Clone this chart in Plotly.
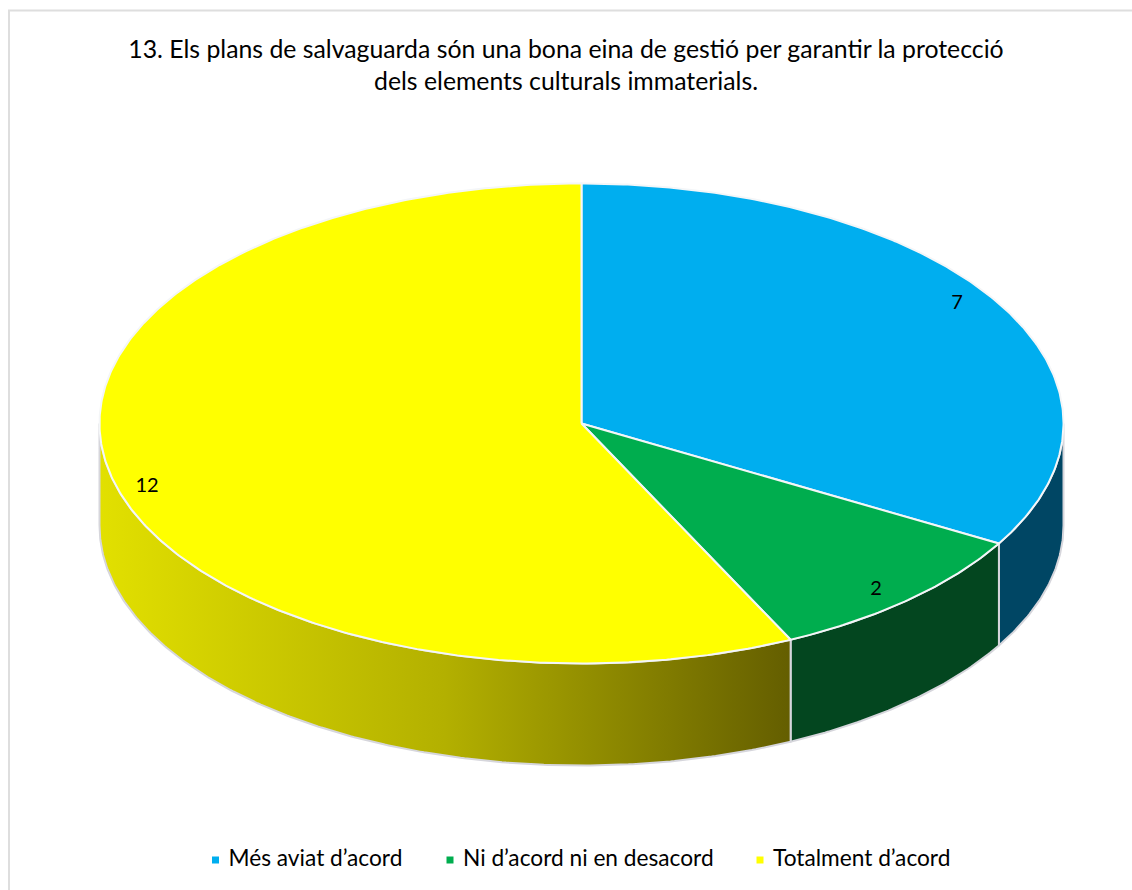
import numpy as np
import plotly.graph_objects as go

title = "13. Els plans de salvaguarda són una bona eina de gestió per garantir la protecció<br>dels elements culturals immaterials."
categories = ["Més aviat d’acord", "Ni d’acord ni en desacord", "Totalment d’acord"]
values = [7, 2, 12]
top_colors = ["#00aeef", "#00ad4e", "#ffff00"]
side_colors = ["#004664", "#03461f", None]

# pie geometry in page pixels
cx, cy = 581.5, 423.5
rx, ry = 482, 240
depth = 102
label_pos = [(957, 304), (876, 590), (147, 487)]
legend_x = [215.5, 450, 760]
legend_y = 860

total = sum(values)
edges = np.cumsum([0] + values) / total * 2 * np.pi


def rim(a, b):
    t = np.linspace(a, b, max(int(abs(b - a) / np.pi * 360), 2))
    return cx + rx * np.sin(t), cy - ry * np.cos(t)


fig = go.Figure()

# walls first, only the front half of the pie shows
for i in range(len(values)):
    a = max(edges[i], np.pi / 2)
    b = min(edges[i + 1], 3 * np.pi / 2)
    if a >= b:
        continue
    x, y = rim(a, b)
    wall = dict(
        x=np.concatenate([x, x[::-1], x[:1]]),
        y=np.concatenate([y, (y + depth)[::-1], y[:1]]),
        mode="lines", fill="toself",
        line=dict(color="#d6d6dc", width=2),
        hoverinfo="skip", showlegend=False,
    )
    if side_colors[i] is None:
        wall["fillgradient"] = dict(
            type="horizontal",
            colorscale=[[0, "#e2e000"], [0.5, "#b3b000"], [1, "#645e00"]],
        )
    else:
        wall["fillcolor"] = side_colors[i]
    fig.add_trace(go.Scatter(**wall))

# top face
for i in range(len(values)):
    x, y = rim(edges[i], edges[i + 1])
    fig.add_trace(go.Scatter(
        x=np.concatenate([[cx], x, [cx]]),
        y=np.concatenate([[cy], y, [cy]]),
        mode="lines", fill="toself", fillcolor=top_colors[i],
        line=dict(color="#f4f6f8", width=2),
        hoverinfo="skip", showlegend=False,
    ))

# data labels
fig.add_trace(go.Scatter(
    x=[p[0] for p in label_pos], y=[p[1] for p in label_pos],
    mode="text", text=[str(v) for v in values],
    textfont=dict(family="Lato", size=20, color="#000000"),
    hoverinfo="skip", showlegend=False,
))

# legend drawn by hand, plotly's own one can't get the tight marker gap
for name, color, lx in zip(categories, top_colors, legend_x):
    fig.add_trace(go.Scatter(
        x=[lx], y=[legend_y], mode="markers", name=name,
        marker=dict(symbol="square", size=7, color=color),
        hoverinfo="skip", showlegend=False,
    ))
    fig.add_trace(go.Scatter(
        x=[lx + 13], y=[legend_y], mode="text", text=[name],
        textposition="middle right",
        textfont=dict(family="Lato", size=22.7, color="#000000"),
        hoverinfo="skip", showlegend=False,
    ))

fig.update_layout(
    width=1132, height=890,
    margin=dict(l=0, r=0, t=0, b=0),
    paper_bgcolor="white", plot_bgcolor="white",
    xaxis=dict(visible=False, range=[0, 1132], fixedrange=True),
    yaxis=dict(visible=False, range=[890, 0], fixedrange=True),
    title=dict(
        text=title, x=0.5, xanchor="center", xref="paper",
        y=0.935, yanchor="top",
        font=dict(family="Lato", size=24.8, color="#000000"),
    ),
    showlegend=False,
    # frame runs off the page on the right and at the bottom
    shapes=[dict(
        type="rect", xref="x", yref="y", x0=9, x1=1150, y0=10.5, y1=910,
        line=dict(color="#dedede", width=2), layer="below",
    )],
)

fig.write_html(
    "out.html",
    config=dict(displayModeBar=False),
    post_script="document.body.style.margin = '0';",
)
